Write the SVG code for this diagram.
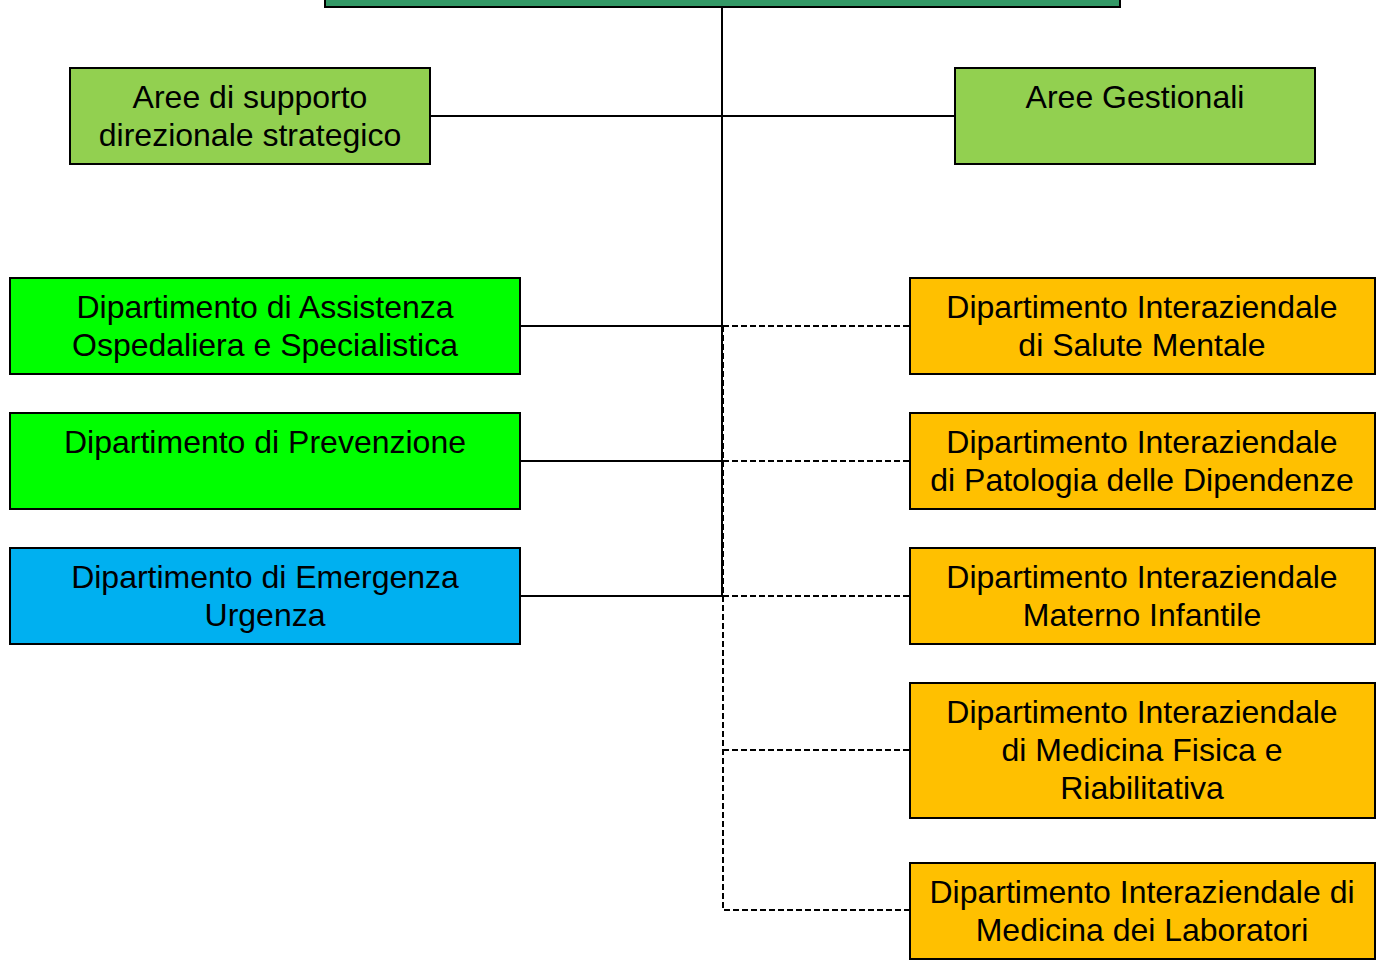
<svg xmlns="http://www.w3.org/2000/svg" width="1377" height="961" viewBox="0 0 1377 961">
<style>
.box{stroke:#000;stroke-width:2}
.t{font-family:"Liberation Sans",Arial,sans-serif;font-size:32px;fill:#000;text-anchor:middle}
.solid{stroke:#000;stroke-width:2;fill:none}
.dash{stroke:#000;stroke-width:2;fill:none;stroke-dasharray:6,3}
</style>
<rect width="1377" height="961" fill="#fff"/>
<g id="connectors">
<line class="solid" x1="722" y1="7" x2="722" y2="596" stroke-width="2.5"/>
<polyline class="dash" points="723,326 723,910 910,910"/>
<line class="solid" x1="430" y1="116" x2="955" y2="116"/>
<line class="solid" x1="520" y1="326" x2="722" y2="326"/>
<line class="solid" x1="520" y1="461" x2="722" y2="461"/>
<line class="solid" x1="520" y1="596" x2="722" y2="596"/>
<line class="dash" x1="723" y1="326" x2="910" y2="326"/>
<line class="dash" x1="723" y1="461" x2="910" y2="461"/>
<line class="dash" x1="723" y1="596" x2="910" y2="596"/>
<line class="dash" x1="723" y1="750" x2="910" y2="750"/>
</g>
<g id="top"><rect class="box" x="325" y="-10" width="795" height="17" fill="#339966"/></g>
<g id="supporto"><rect class="box" x="70" y="68" width="360" height="96" fill="#92D050"/>
<text class="t" x="250" y="108">Aree di supporto</text><text class="t" x="250" y="146">direzionale strategico</text></g>
<g id="gestionali"><rect class="box" x="955" y="68" width="360" height="96" fill="#92D050"/>
<text class="t" x="1135" y="108">Aree Gestionali</text></g>
<g id="assistenza"><rect class="box" x="10" y="278" width="510" height="96" fill="#00FF00"/>
<text class="t" x="265" y="318">Dipartimento di Assistenza</text><text class="t" x="265" y="356">Ospedaliera e Specialistica</text></g>
<g id="prevenzione"><rect class="box" x="10" y="413" width="510" height="96" fill="#00FF00"/>
<text class="t" x="265" y="453">Dipartimento di Prevenzione</text></g>
<g id="emergenza"><rect class="box" x="10" y="548" width="510" height="96" fill="#00B0F0"/>
<text class="t" x="265" y="588">Dipartimento di Emergenza</text><text class="t" x="265" y="626">Urgenza</text></g>
<g id="salute"><rect class="box" x="910" y="278" width="465" height="96" fill="#FFC000"/>
<text class="t" x="1142" y="318">Dipartimento Interaziendale</text><text class="t" x="1142" y="356">di Salute Mentale</text></g>
<g id="dipendenze"><rect class="box" x="910" y="413" width="465" height="96" fill="#FFC000"/>
<text class="t" x="1142" y="453">Dipartimento Interaziendale</text><text class="t" x="1142" y="491">di Patologia delle Dipendenze</text></g>
<g id="materno"><rect class="box" x="910" y="548" width="465" height="96" fill="#FFC000"/>
<text class="t" x="1142" y="588">Dipartimento Interaziendale</text><text class="t" x="1142" y="626">Materno Infantile</text></g>
<g id="fisica"><rect class="box" x="910" y="683" width="465" height="135" fill="#FFC000"/>
<text class="t" x="1142" y="723">Dipartimento Interaziendale</text><text class="t" x="1142" y="761">di Medicina Fisica e</text><text class="t" x="1142" y="799">Riabilitativa</text></g>
<g id="laboratori"><rect class="box" x="910" y="863" width="465" height="96" fill="#FFC000"/>
<text class="t" x="1142" y="903">Dipartimento Interaziendale di</text><text class="t" x="1142" y="941">Medicina dei Laboratori</text></g>
</svg>
